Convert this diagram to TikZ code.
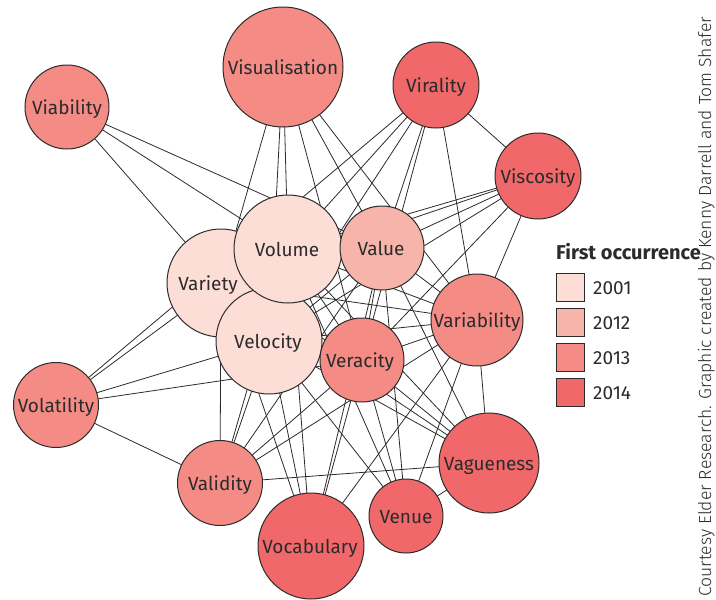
\documentclass[tikz,border=0pt]{standalone}
\usepackage{fontspec}
\setmainfont{Fira Sans}
\newfontfamily\creditfont{Fira Sans Light}
\usetikzlibrary{backgrounds}
\definecolor{cA}{HTML}{FCDED6}
\definecolor{cB}{HTML}{F7B4AB}
\definecolor{cC}{HTML}{F48C85}
\definecolor{cD}{HTML}{F0686A}
\definecolor{ink}{HTML}{2B2B2B}
\begin{document}
\begin{tikzpicture}[x=1pt,y=-1pt,
  vnode/.style={circle, draw=ink, line width=1pt, inner sep=0pt, minimum size=#1},
  lbl/.style={font=\fontsize{19}{19}\selectfont, text=ink, inner sep=0pt, anchor=base},
  edge/.style={draw=ink, line width=0.8pt},
  legbox/.style={draw=ink, line width=1pt, minimum size=28pt, inner sep=0pt, anchor=north west},
  legtext/.style={font=\fontsize{19}{19}\selectfont, text=ink, inner sep=0pt, anchor=base west}
]
\useasboundingbox (0,0) rectangle (716,600);

% circles
\node[vnode=84pt, fill=cC] (Via) at (67,107) {};
\node[vnode=120pt, fill=cC] (Vis) at (283,67) {};
\node[vnode=86pt, fill=cD] (Vir) at (436,85) {};
\node[vnode=86pt, fill=cD] (Visc) at (538,176) {};
\node[vnode=92pt, fill=cC] (Vari) at (477,320) {};
\node[vnode=100pt, fill=cD] (Vag) at (489,463) {};
\node[vnode=74pt, fill=cD] (Ven) at (406,516) {};
\node[vnode=106pt, fill=cD] (Voc) at (311,546) {};
\node[vnode=85pt, fill=cC] (Vali) at (220,483) {};
\node[vnode=85pt, fill=cC] (Volat) at (56,405) {};
\node[vnode=108pt, fill=cA] (Var) at (221,283) {};
\node[vnode=106pt, fill=cA] (Vel) at (269,341) {};
\node[vnode=108pt, fill=cA] (Vol) at (288,249) {};
\node[vnode=84pt, fill=cB] (Val) at (382,248) {};
\node[vnode=84pt, fill=cC] (Ver) at (362,360) {};

% labels
\node[lbl] (tVia) at (67,114) {Viability};
\node[lbl] (tVis) at (283,74) {Visualisation};
\node[lbl] (tVir) at (436,92) {Virality};
\node[lbl] (tVisc) at (538,183) {Viscosity};
\node[lbl] (tVari) at (477,327) {Variability};
\node[lbl] (tVag) at (489,470) {Vagueness};
\node[lbl] (tVen) at (406,523) {Venue};
\node[lbl] (tVoc) at (310,553) {Vocabulary};
\node[lbl] (tVali) at (220,490) {Validity};
\node[lbl] (tVolat) at (56,412) {Volatility};
\node[lbl] (tVar) at (208,290) {Variety};
\node[lbl] (tVel) at (268,348) {Velocity};
\node[lbl] (tVol) at (287,256) {Volume};
\node[lbl] (tVal) at (381,255) {Value};
\node[lbl] (tVer) at (360,367) {Veracity};

% edges
\begin{scope}[on background layer]
\foreach \a/\b in {Vol/Var, Vol/Vel, Vol/Val, Vol/Ver, Vol/Vari, Var/Vel, Var/Val, Var/Ver, Var/Vari,
  Vel/Val, Vel/Ver, Vel/Vari, Val/Ver, Val/Vari, Ver/Vari,
  Via/Val, Via/Vol, Via/Var,
  Vis/Var, Vis/Vel, Vis/Vol, Vis/Ver, Vis/Val, Vis/Vari,
  Vir/Volat, Vir/Vol, Vir/Vel, Vir/Val, Vir/Ver, Vir/Vari, Vir/Visc,
  Visc/Vol, Visc/Var, Visc/Val, Visc/Vel, Visc/Ver, Visc/Vari,
  Volat/Var, Volat/Vel, Volat/Ver, Volat/Vali,
  Vali/Var, Vali/Vel, Vali/Vol, Vali/Val, Vali/Ver, Vali/Vari, Vali/Vag,
  Voc/Var, Voc/Vel, Voc/Vol, Voc/Ver, Voc/Val, Voc/Vari,
  Ven/Vel, Ven/Vol, Ven/Val, Ven/Ver, Ven/Vari, Ven/Vag,
  Vag/Vari, Vag/Ver, Vag/Vel, Vag/Var, Vag/Vol, Vag/Val}
  \draw[edge] (\a.center) -- (\b.center);
\end{scope}

% legend
\node[legtext, font=\fontsize{20}{20}\selectfont\bfseries] (legtitle) at (556,259) {First occurrence};
\node[legbox, fill=cA] (b1) at (556,273) {};
\node[legbox, fill=cB] (b2) at (556,308) {};
\node[legbox, fill=cC] (b3) at (556,343) {};
\node[legbox, fill=cD] (b4) at (556,378) {};
\node[legtext] (l1) at (593,294) {2001};
\node[legtext] (l2) at (593,329) {2012};
\node[legtext] (l3) at (593,364) {2013};
\node[legtext] (l4) at (593,399) {2014};

% credit
\node[rotate=90, anchor=base west, inner sep=0pt, text=ink, font=\creditfont\fontsize{17.5}{17.5}\selectfont] (credit) at (711,597) {Courtesy Elder Research. Graphic created by Kenny Darrell and Tom Shafer};
\end{tikzpicture}
\end{document}
